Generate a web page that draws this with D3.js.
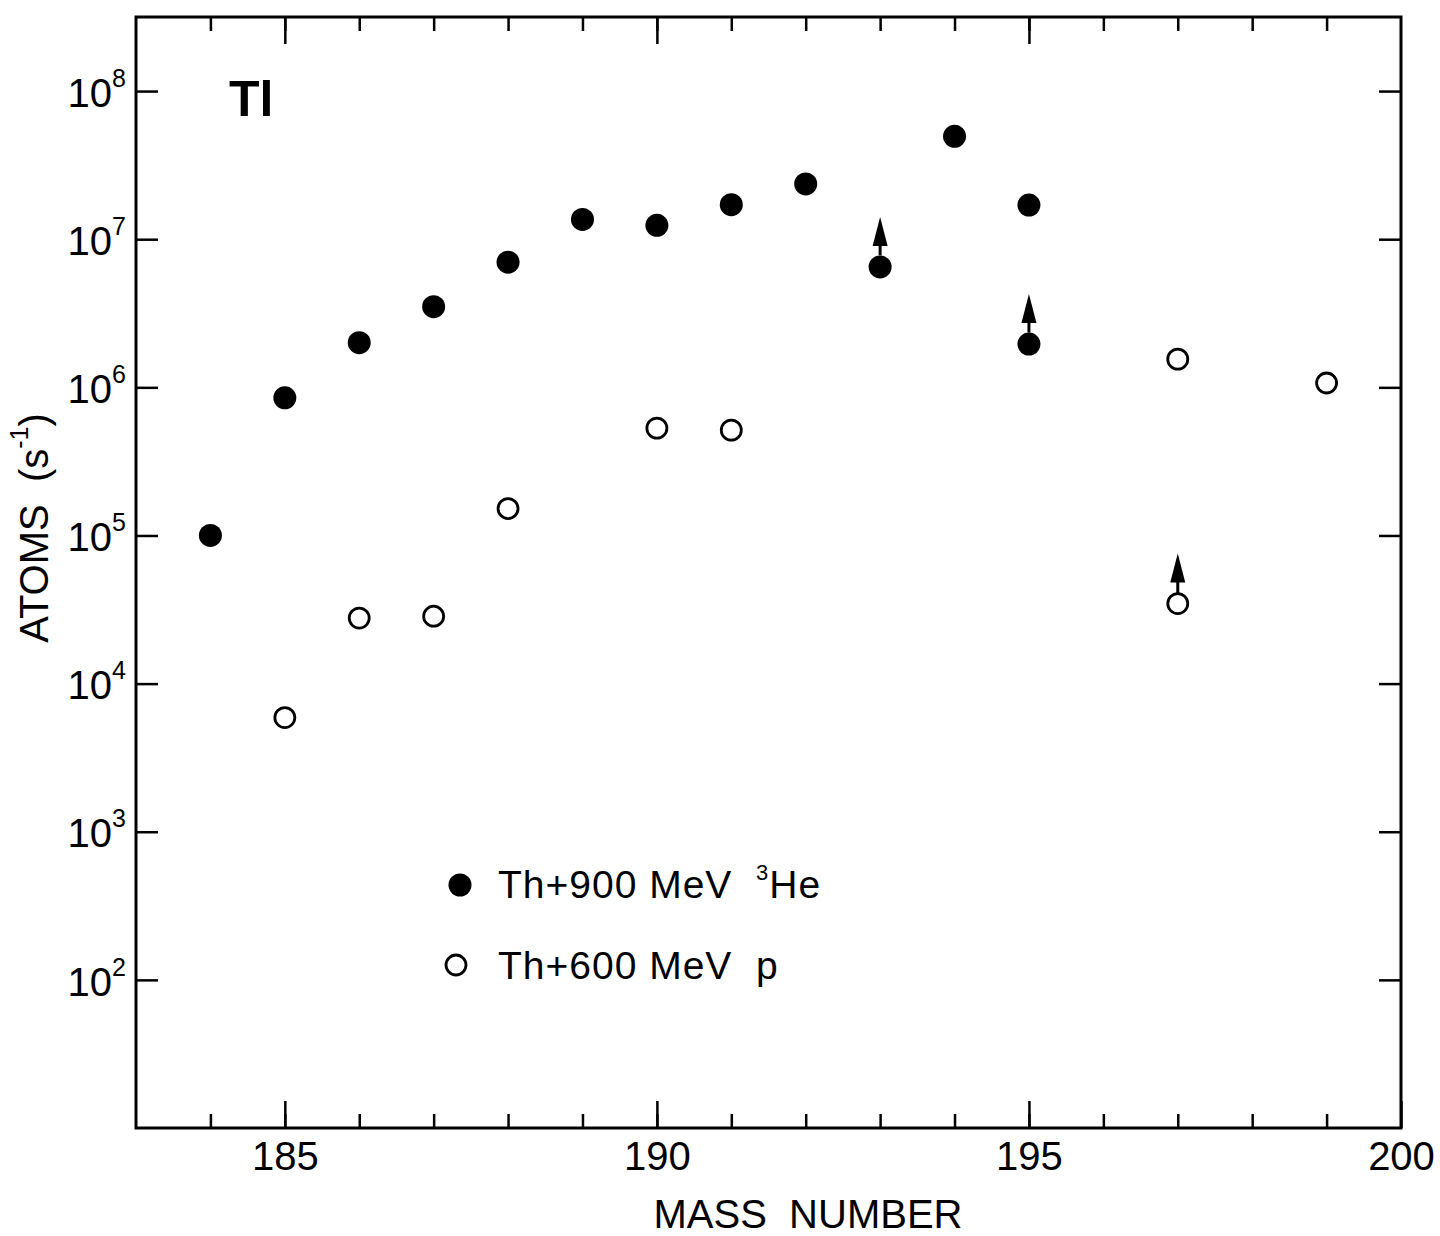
<!DOCTYPE html>
<html>
<head>
<meta charset="utf-8">
<script src="https://cdn.jsdelivr.net/npm/d3@7"></script>
<style>
  html, body { margin: 0; padding: 0; background: #fff; }
  svg { display: block; }
  text { font-family: "Liberation Sans", Arial, sans-serif; fill: #000; }
</style>
</head>
<body>
<svg id="chart" width="1440" height="1236"></svg>
<script>
// ---------- data ----------
const massHe   = [184, 185, 186, 187, 188, 189, 190, 191, 192, 193, 194, 195, 195];
const atomsHe  = [1.0e5, 8.5e5, 2.0e6, 3.5e6, 7.0e6, 1.36e7, 1.24e7, 1.71e7, 2.36e7, 6.5e6, 4.95e7, 1.70e7, 1.96e6];
const limitHe  = [false, false, false, false, false, false, false, false, false, true, false, false, true];

const massP    = [185, 186, 187, 188, 190, 191, 197, 199, 197];
const atomsP   = [5.9e3, 2.77e4, 2.85e4, 1.52e5, 5.3e5, 5.14e5, 1.55e6, 1.07e6, 3.47e4];
const limitP   = [false, false, false, false, false, false, false, false, true];

const xMinorTicks = d3.range(184, 200);
const xMajorTicks = [185, 190, 195, 200];
const yTicks      = [1e2, 1e3, 1e4, 1e5, 1e6, 1e7, 1e8];
const xDomain     = [183, 200];
const yDomain     = [10, Math.pow(10, 8.5)];

const legendLabels = ["Th+900 MeV", "Th+600 MeV  p"];
const elementLabel = "Tl";
const xTitle = "MASS  NUMBER";
const yTitle = "ATOMS";

// ---------- layout ----------
const L = 136, R = 1401, T = 17, B = 1128;
const svg = d3.select("#chart");

const x = d3.scaleLinear().domain(xDomain).range([L, R]);
const y = d3.scaleLog().domain(yDomain).range([B, T]);

const FS = 40;

// bottom axis: minor ticks
svg.append("g").attr("transform", `translate(0,${B})`)
  .call(d3.axisBottom(x).tickValues(xMinorTicks).tickSize(-14).tickSizeOuter(0).tickFormat(""))
  .call(g => g.select(".domain").remove())
  .call(g => g.selectAll("line").attr("stroke", "#000").attr("stroke-width", 2.5));
// bottom axis: major ticks + labels
svg.append("g").attr("transform", `translate(0,${B})`)
  .call(d3.axisBottom(x).tickValues(xMajorTicks).tickSize(-27).tickSizeOuter(0).tickPadding(14).tickFormat(d3.format("d")))
  .call(g => g.select(".domain").remove())
  .call(g => g.selectAll("line").attr("stroke", "#000").attr("stroke-width", 2.5))
  .call(g => g.selectAll("text").attr("font-size", FS).attr("font-family", "Liberation Sans, Arial, sans-serif").attr("fill", "#000"));

// top axis
svg.append("g").attr("transform", `translate(0,${T})`)
  .call(d3.axisTop(x).tickValues(xMinorTicks).tickSize(-14).tickSizeOuter(0).tickFormat(""))
  .call(g => g.select(".domain").remove())
  .call(g => g.selectAll("line").attr("stroke", "#000").attr("stroke-width", 2.5));
svg.append("g").attr("transform", `translate(0,${T})`)
  .call(d3.axisTop(x).tickValues(xMajorTicks.filter(d => d < 200)).tickSize(-27).tickSizeOuter(0).tickFormat(""))
  .call(g => g.select(".domain").remove())
  .call(g => g.selectAll("line").attr("stroke", "#000").attr("stroke-width", 2.5));

// left axis
svg.append("g").attr("transform", `translate(${L},0)`)
  .call(d3.axisLeft(y).tickValues(yTicks).tickSize(-22).tickSizeOuter(0).tickPadding(12).tickFormat(""))
  .call(g => g.select(".domain").remove())
  .call(g => g.selectAll("line").attr("stroke", "#000").attr("stroke-width", 2.5))
  .call(g => g.selectAll(".tick text").each(function(d) {
      const t = d3.select(this)
        .attr("font-size", FS).attr("fill", "#000")
        .attr("font-family", "Liberation Sans, Arial, sans-serif")
        .attr("x", -10).attr("dy", "0.38em");
      t.append("tspan").text("10");
      t.append("tspan").attr("dy", "-20").attr("font-size", "25").text(Math.round(Math.log10(d)));
  }));

// right axis
svg.append("g").attr("transform", `translate(${R},0)`)
  .call(d3.axisRight(y).tickValues(yTicks).tickSize(-22).tickSizeOuter(0).tickFormat(""))
  .call(g => g.select(".domain").remove())
  .call(g => g.selectAll("line").attr("stroke", "#000").attr("stroke-width", 2.5));

// frame
svg.append("rect")
  .attr("x", L).attr("y", T).attr("width", R - L).attr("height", B - T)
  .attr("fill", "none").attr("stroke", "#000").attr("stroke-width", 3);

// axis titles
svg.append("text")
  .attr("x", 808).attr("y", 1228).attr("text-anchor", "middle")
  .attr("font-size", FS).style("white-space", "pre").attr("xml:space", "preserve")
  .text(xTitle);

const yt = svg.append("text")
  .attr("transform", "translate(48,528) rotate(-90)")
  .attr("text-anchor", "middle")
  .attr("font-size", FS).attr("xml:space", "preserve");
yt.append("tspan").text(yTitle + "  (s");
yt.append("tspan").attr("dy", "-20").attr("font-size", "25").text("-1");
yt.append("tspan").attr("dy", "20").text(")");

// element label
svg.append("text")
  .attr("x", 229).attr("y", 116)
  .attr("font-size", 50).attr("font-weight", "bold")
  .text(elementLabel);

// ---------- points ----------
const rFilled = 11.5, rOpen = 10;

function arrow(g, cx, cy, r) {
  g.append("line")
    .attr("x1", cx).attr("x2", cx)
    .attr("y1", cy - r).attr("y2", cy - 22)
    .attr("stroke", "#000").attr("stroke-width", 3);
  g.append("path")
    .attr("d", `M${cx},${cy - 50} L${cx - 7.5},${cy - 21} L${cx + 7.5},${cy - 21} Z`)
    .attr("fill", "#000");
}

const gHe = svg.append("g");
massHe.forEach((m, i) => {
  const cx = x(m), cy = y(atomsHe[i]);
  gHe.append("circle").attr("cx", cx).attr("cy", cy).attr("r", rFilled).attr("fill", "#000");
  if (limitHe[i]) arrow(gHe, cx, cy, rFilled);
});

const gP = svg.append("g");
massP.forEach((m, i) => {
  const cx = x(m), cy = y(atomsP[i]);
  gP.append("circle").attr("cx", cx).attr("cy", cy).attr("r", rOpen)
    .attr("fill", "#fff").attr("stroke", "#000").attr("stroke-width", 2.8);
  if (limitP[i]) arrow(gP, cx, cy, rOpen);
});

// ---------- legend ----------
const lg = svg.append("g");
lg.append("circle").attr("cx", 460).attr("cy", 885).attr("r", rFilled).attr("fill", "#000");
const l1 = lg.append("text").attr("x", 498).attr("y", 898).attr("font-size", 39)
  .attr("letter-spacing", 1).attr("xml:space", "preserve");
l1.append("tspan").text(legendLabels[0] + "  ");
l1.append("tspan").attr("dy", "-18").attr("font-size", "22").text("3");
l1.append("tspan").attr("dy", "18").text("He");

lg.append("circle").attr("cx", 456).attr("cy", 965).attr("r", rOpen)
  .attr("fill", "#fff").attr("stroke", "#000").attr("stroke-width", 2.8);
lg.append("text").attr("x", 498).attr("y", 979).attr("font-size", 39)
  .attr("letter-spacing", 1).attr("xml:space", "preserve")
  .text(legendLabels[1]);
</script>
</body>
</html>
